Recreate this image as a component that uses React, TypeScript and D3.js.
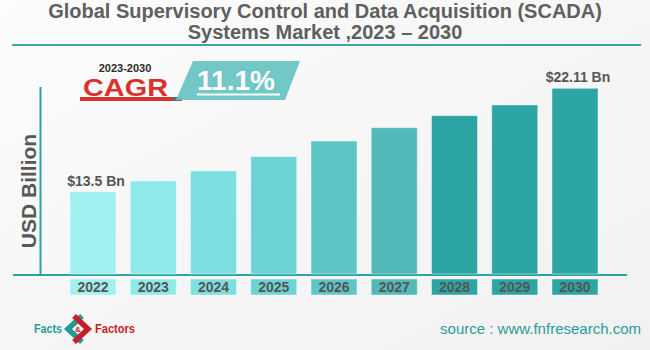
import React from "react";
import * as d3 from "d3";

const years = ["2022", "2023", "2024", "2025", "2026", "2027", "2028", "2029", "2030"];
const marketSize = [13.5, 14.39, 15.22, 16.42, 17.72, 18.83, 19.83, 20.72, 22.11];
const barColors = ["#a1f1f1", "#8ee9e9", "#7ddfdf", "#6cd4d4", "#5ec7c6", "#52b9b8", "#2ca5a4", "#2ca5a4", "#2ca5a4"];
const valueLabels = ["$13.5 Bn", "", "", "", "", "", "", "", "$22.11 Bn"];
const titleLines = ["Global Supervisory Control and Data Acquisition (SCADA)", "Systems Market ,2023 \u2013 2030"];
const cagrPeriod = "2023-2030";
const cagrValue = "11.1%";

const W = 650, H = 350;
const font = "'Liberation Sans', Arial, sans-serif";

export default function App() {
  // band scale for the years, linear for the values (axis does not start at 0)
  const x = d3.scaleBand<string>()
    .domain(years)
    .range([62.9, 605.1])
    .paddingInner(0.236)
    .paddingOuter(0.118);

  const y = d3.scaleLinear()
    .domain([6.55, 22.11])
    .range([275, 88.3]);

  const base = y(6.55);

  return (
    <svg width={W} height={H} style={{ position: "absolute", left: 0, top: 0 }} fontFamily={font}>
      <defs>
        <linearGradient id="bg" x1="0" y1="0" x2="1" y2="1">
          <stop offset="0" stopColor="#fdfdfd" />
          <stop offset="0.5" stopColor="#f6f6f6" />
          <stop offset="1" stopColor="#f1f1f1" />
        </linearGradient>
      </defs>
      <rect width={W} height={H} fill="url(#bg)" />

      {/* title */}
      {titleLines.map((t, i) => (
        <text key={i} x={325} y={18 + i * 20.5} textAnchor="middle" fontSize={20}
          fontWeight="bold" fill="#5f5f5f">{t}</text>
      ))}
      <line x1={12} x2={641} y1={45} y2={45} stroke="#3aa7a5" strokeWidth={2} />

      {/* CAGR badge */}
      <text x={125} y={72} textAnchor="middle" fontSize={11} fontWeight="bold" fill="#2b2b2b">{cagrPeriod}</text>
      <text x={83} y={96} fontSize={23} fontWeight="bold" fill="#d8322e" textLength={85}
        lengthAdjust="spacingAndGlyphs">CAGR</text>
      <rect x={80} y={97} width={93} height={4} fill="#d8322e" />
      <rect x={172} y={97} width={10} height={4} fill="#6a6a6a" />
      <polygon points="193,61 300,61 285,100 176,100" fill="#6cc4c3" opacity={0.95} />
      <text x={236} y={90} textAnchor="middle" fontSize={28} fontWeight="bold" fill="#ffffff">{cagrValue}</text>
      <rect x={197} y={93.5} width={83} height={2} fill="#ffffff" />

      {/* axes */}
      <line x1={40.5} x2={40.5} y1={87} y2={base} stroke="#2aa3a2" strokeWidth={2} />
      <line x1={13} x2={627} y1={base} y2={base} stroke="#2aa3a2" strokeWidth={2} />
      <text transform={`translate(35.5,191) rotate(-90)`} textAnchor="middle" fontSize={21}
        fontWeight="bold" fill="#575757">USD Billion</text>

      {/* bars */}
      {years.map((yr, i) => (
        <g key={yr}>
          <rect x={x(yr)} y={y(marketSize[i])} width={x.bandwidth()} height={base - y(marketSize[i]) - 1}
            fill={barColors[i]} stroke="#ffffff" strokeOpacity={0.45} strokeWidth={1} />
          {valueLabels[i] && (
            <text x={(x(yr) as number) + x.bandwidth() / 2 + 3} y={y(marketSize[i]) - 6} textAnchor="middle"
              fontSize={14} fontWeight="bold" fill="#555555">{valueLabels[i]}</text>
          )}
          <rect x={x(yr)} y={279} width={x.bandwidth()} height={16} fill={barColors[i]}
            stroke="#ffffff" strokeOpacity={0.45} />
          <text x={(x(yr) as number) + x.bandwidth() / 2} y={292} textAnchor="middle" fontSize={14}
            fontWeight="bold" fill="#555555">{yr}</text>
        </g>
      ))}

      {/* logo */}
      <text x={34} y={333} fontSize={13} fontWeight="bold" fill="#1f9c98" textLength={28}
        lengthAdjust="spacingAndGlyphs">Facts</text>
      <g transform="translate(78,329)">
        <path d="M4,-13 L-10,0 L4,13" fill="none" stroke="#1f9c98" strokeWidth={5.5} />
        <path d="M-4,-13 L10,0 L-4,13" fill="none" stroke="#c41f27" strokeWidth={5.5} />
        <text x={0} y={3} textAnchor="middle" fontSize={8} fontWeight="bold" fill="#c41f27">&amp;</text>
      </g>
      <text x={95} y={333} fontSize={13} fontWeight="bold" fill="#c41f27" textLength={40}
        lengthAdjust="spacingAndGlyphs">Factors</text>

      <text x={641} y={334} textAnchor="end" fontSize={15} fill="#2a9c9a">source : www.fnfresearch.com</text>
    </svg>
  );
}
